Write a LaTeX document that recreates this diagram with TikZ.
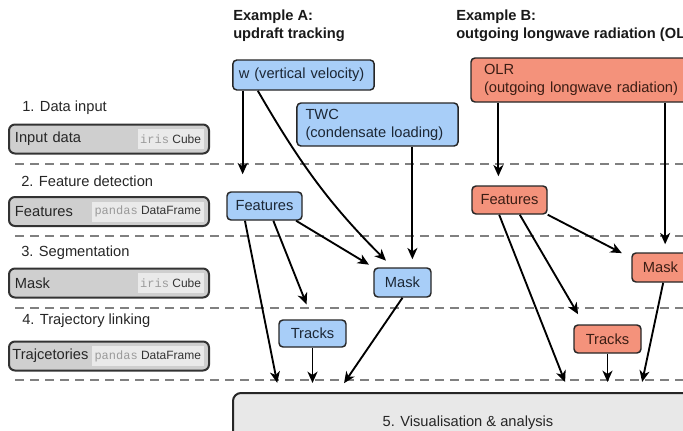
\documentclass[tikz,border=0pt]{standalone}
\usepackage{fontspec}
\setmainfont{Liberation Sans}
\setmonofont{Liberation Mono}
\usetikzlibrary{positioning}
\usetikzlibrary{arrows.meta}
\usetikzlibrary{calc}

\definecolor{boxblue}{HTML}{A8CEF8}
\definecolor{boxred}{HTML}{F4927B}
\definecolor{boxgray}{HTML}{CFCFCF}
\definecolor{typegray}{HTML}{EAEAEA}
\definecolor{ttgray}{HTML}{9A9A9A}
\definecolor{visgray}{HTML}{E8E8E8}
\definecolor{inkblue}{HTML}{1C2735}
\definecolor{inkred}{HTML}{3B1D14}

\begin{document}
\begin{tikzpicture}[x=0.75pt, y=-0.75pt]
	\tikzset{
		box/.style={rectangle, rounded corners=3pt, draw=black!85, line width=1.1pt, inner sep=0pt, font=\fontsize{11}{13.5}\selectfont},
		anode/.style={box, fill=boxblue, text=inkblue},
		bnode/.style={box, fill=boxred, text=inkred},
		datanode/.style={rectangle, rounded corners=4.5pt, draw=black!80, line width=1.5pt, fill=boxgray, inner xsep=4.5pt, text width=141pt, minimum height=21.75pt, align=left, text=black!85, font=\fontsize{11}{13.5}\selectfont},
		typenode/.style={rectangle, fill=typegray, inner xsep=2pt, inner ysep=0pt, minimum height=15pt, text=black!80, font=\fontsize{9}{10}\selectfont},
		steplabel/.style={anchor=west, inner sep=0pt, text=black!85, font=\fontsize{11}{13.5}\selectfont},
		header/.style={anchor=west, inner sep=0pt, align=left, text=black!90, font=\fontsize{11}{13.5}\selectfont\bfseries},
		visnode/.style={rectangle, rounded corners=6pt, draw=black!85, line width=1.5pt, fill=visgray, text=black!85, font=\fontsize{11}{13.5}\selectfont},
		divider/.style={draw=black!50, line width=1.5pt, dash pattern=on 6.75pt off 4.5pt},
		arr/.style={-{Stealth[length=8.5pt, width=7.5pt, inset=2.5pt]}, line width=1.4pt, black},
	}
	\path[use as bounding box, clip] (0,0) rectangle (683,430);

	% stage separators
	\foreach \y in {164,236,308,380}
		\draw[divider] (15,\y) -- (690,\y);

	% left column: the steps and their data types
	\node[steplabel] (lab1) at (22,108) {1. Data input};
	\node[datanode] (inp) at (109,139) {Input data};
	\node[typenode, left=4.5pt of inp.east] (inpT) {{\ttfamily\color{ttgray}iris} Cube};

	\node[steplabel] (lab2) at (21,181) {2. Feature detection};
	\node[datanode] (feat) at (109,211.5) {Features};
	\node[typenode, left=4.5pt of feat.east] (featT) {{\ttfamily\color{ttgray}pandas} DataFrame};

	\node[steplabel] (lab3) at (21,253) {3. Segmentation};
	\node[datanode] (mask) at (109,283) {Mask};
	\node[typenode, left=4.5pt of mask.east] (maskT) {{\ttfamily\color{ttgray}iris} Cube};

	\node[steplabel] (lab4) at (22,321) {4. Trajectory linking};
	\node[datanode, inner xsep=2.5pt, text width=145pt] (traj) at (109,356) {Trajcetories};
	\node[typenode, left=4.5pt of traj.east] (trajT) {{\ttfamily\color{ttgray}pandas} DataFrame};

	% example A
	\node[header] (hdrA) at (233,26) {Example A:\\updraft tracking};
	\node[anode, inner xsep=4.5pt, text width=97pt, minimum height=22.5pt, align=left] (wA) at (303.5,75) {w (vertical velocity)};
	\node[anode, inner xsep=6.4pt, text width=108pt, minimum height=32.25pt, align=left] (twc) at (377.5,124.5) {TWC\\(condensate loading)};
	\node[anode, minimum width=56.25pt, minimum height=21pt] (fA) at (264.5,206) {Features};
	\node[anode, minimum width=42.75pt, minimum height=21.75pt] (mA) at (402.5,282.5) {Mask};
	\node[anode, minimum width=50.25pt, minimum height=20.25pt] (tA) at (312.5,333.5) {Tracks};

	% example B
	\node[header] (hdrB) at (456,26) {Example B:\\outgoing longwave radiation (OLR)};
	\node[bnode, inner xsep=9.75pt, text width=160.5pt, minimum height=33pt, align=left] (olr) at (591,80) {OLR\\(outgoing longwave radiation)};
	\node[bnode, minimum width=56.25pt, minimum height=21pt] (fB) at (509.5,200) {Features};
	\node[bnode, minimum width=42.75pt, minimum height=21.75pt] (mB) at (660.5,267.5) {Mask};
	\node[bnode, minimum width=50.25pt, minimum height=21pt] (tB) at (607.5,339) {Tracks};

	% final step
	\node[visnode, minimum width=352.5pt, minimum height=45pt] (vis) at (468,423) {5. Visualisation \& analysis};

	% connectors, example A
	\draw[arr, shorten >=12.75pt] (wA.south -| fA.146) -- (fA.146);
	\draw[arr, shorten >=7pt] (wA.199) to[out=-60, in=135] (mA.123);
	\draw[arr, shorten >=6pt] (twc.south -| mA.57) -- (mA.57);
	\draw[arr, shorten >=3.75pt] (fA.-25) -- (mA.north west);
	\draw[arr, shorten >=12pt] (fA.-59) -- (tA.north);
	\draw[arr, shorten >=7pt] (fA.-143) -- ($(vis.north west)+(47,0)$);
	\draw[arr, shorten >=6.75pt] (tA.south) -- (tA.south |- vis.north);
	\draw[arr, shorten >=8pt] (mA.south) -- ($(vis.north west)+(106,0)$);

	% connectors, example B
	\draw[arr, shorten >=6.75pt] (olr.south -| fB.127) -- (fB.127);
	\draw[arr, shorten >=6pt] (olr.south -| mB.73) -- (mB.73);
	\draw[arr, shorten >=8pt] (fB.south east) -- (mB.162);
	\draw[arr, shorten >=8.7pt] (fB.-55) -- (tB.148);
	\draw[arr, shorten >=8pt] (fB.-125) -- ($(vis.north west)+(337,0)$);
	\draw[arr, shorten >=7.5pt] (tB.south) -- (tB.south |- vis.north);
	\draw[arr, shorten >=7.7pt] (mB.-80) -- ($(vis.north west)+(408,0)$);
\end{tikzpicture}
\end{document}
